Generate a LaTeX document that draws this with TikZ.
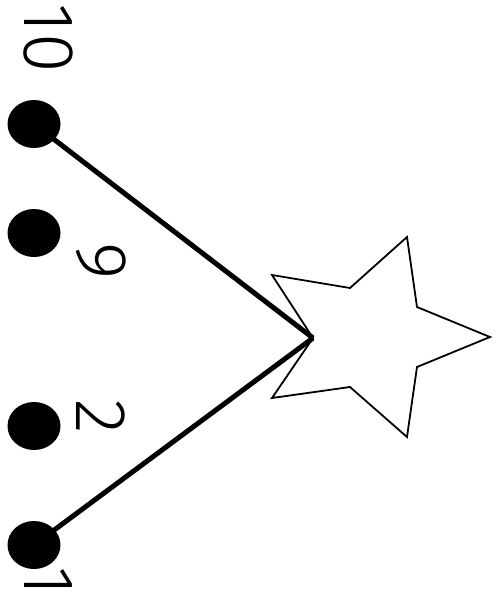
\documentclass[tikz,border=0pt]{standalone}
\usepackage{fontspec}
\IfFontExistsTF{Fira Sans Light}
  {\setmainfont{Fira Sans Light}\newcommand\lblsize{\fontsize{72}{72}\selectfont}\newcommand\topy{38}\newcommand\boty{581}}
  {\IfFontExistsTF{Noto Sans Light}
    {\setmainfont{Noto Sans Light}\newcommand\lblsize{\fontsize{70}{70}\selectfont}\newcommand\topy{38}\newcommand\boty{581}}
    {\setmainfont{DejaVuSans-ExtraLight.ttf}\newcommand\lblsize{\fontsize{66}{66}\selectfont}\newcommand\topy{39}\newcommand\boty{582}}}
\usetikzlibrary{shapes.geometric}
\begin{document}
\begin{tikzpicture}[x=1pt,y=-1pt,
  dot/.style={ellipse,fill=black,minimum width=53pt,minimum height=48pt,inner sep=0pt},
  lbl/.style={rotate=-90,inner sep=0pt,font=\lblsize},
  conn/.style={line width=5pt},
  starline/.style={line width=1.8pt}]
\useasboundingbox (0,0) rectangle (497,597);
\coordinate (s) at (313,338);
\coordinate (c1) at (34,124);
\coordinate (c4) at (34,545);
\draw[starline] (s) -- (272,275) -- (350,288) -- (407,237) -- (417,307) -- (490,337)
  -- (417,367) -- (407,437) -- (350,387) -- (272,398) -- cycle;
\draw[conn] (c1) -- (s);
\draw[conn] (c4) -- (s);
\node[dot] (d1) at (c1) {};
\node[dot] (d2) at (34,233) {};
\node[dot] (d3) at (34,426) {};
\node[dot] (d4) at (c4) {};
\node[lbl] (t10) at (48,\topy) {10};
\node[lbl] (t9) at (101,261) {9};
\node[lbl] (t2) at (101,417) {2};
\node[lbl] (t1) at (48,\boty) {1};
\end{tikzpicture}
\end{document}
